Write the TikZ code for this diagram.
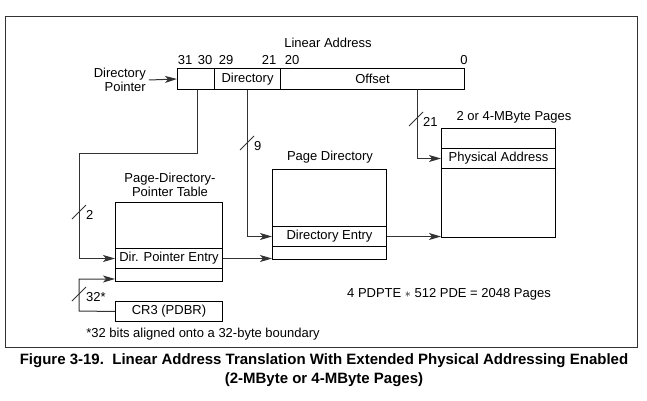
\documentclass[tikz,border=0pt]{standalone}
\usepackage{fontspec}
\setmainfont{Liberation Sans}
\usepackage{tikz}
\usetikzlibrary{arrows.meta}
\definecolor{linecol}{rgb}{0.2, 0.2, 0.2}
\tikzstyle{field}=[draw=black,line width=1pt,inner sep=0pt,anchor=north west,font=\fontsize{13}{13.5}\selectfont]
\tikzstyle{lbl}=[inner sep=0pt,font=\fontsize{13}{13.5}\selectfont]
\tikzstyle{conn}=[draw=linecol,line width=1pt,-{Stealth[length=12pt,width=7pt,inset=3pt]}]
\newcommand{\busmark}[4]{
  \draw[linecol,line width=1pt] (#1,#2) ++(-7,7) -- ++(14,-14);
  \node[lbl,anchor=west] (#4) at (#1+7,#2+3) {#3};
}

\begin{document}
\begin{tikzpicture}[x=1pt,y=-1pt]
\useasboundingbox (0,0) rectangle (647,401);
\draw[linecol,line width=1pt] (5,17) rectangle (637,347);

\node[lbl] (latitle) at (328,43) {Linear Address};
\node[lbl] (b31) at (185,60) {31};
\node[lbl] (b30) at (205,60) {30};
\node[lbl] (b29) at (226,60) {29};
\node[lbl] (b21) at (269,60) {21};
\node[lbl] (b20) at (292,60) {20};
\node[lbl] (b0) at (464,60) {0};

\node[field,minimum width=37pt,minimum height=21pt] (dp) at (177,68) {};
\node[field,minimum width=66pt,minimum height=21pt] (dir) at (214,68) {Directory};
\node[field,minimum width=184pt,minimum height=21pt] (off) at (280,68) {Offset};
\node[lbl,align=right,anchor=east] (dplbl) at (146,80) {Directory\\Pointer};

\node[lbl,align=center] (pttitle) at (170,185) {Page-Directory-\\Pointer Table};
\node[field,minimum width=107pt,minimum height=46pt] (ptop) at (115,202) {};
\node[field,minimum width=107pt,minimum height=20pt] (pdpe) at (115,248) {Dir. Pointer Entry};
\node[field,minimum width=107pt,minimum height=13pt] (pbot) at (115,268) {};

\node[lbl] (pdtitle) at (330,157) {Page Directory};
\node[field,minimum width=114pt,minimum height=57pt] (dtop) at (272,169) {};
\node[field,minimum width=114pt,minimum height=20pt] (pde) at (272,226) {Directory Entry};
\node[field,minimum width=114pt,minimum height=13pt] (dbot) at (272,246) {};

\node[lbl] (pgtitle) at (514,117) {2 or 4-MByte Pages};
\node[field,minimum width=114pt,minimum height=20pt] (gtop) at (441,128) {};
\node[field,minimum width=114pt,minimum height=20pt] (phys) at (441,148) {Physical Address};
\node[field,minimum width=114pt,minimum height=69pt] (gbot) at (441,168) {};

\node[field,minimum width=107pt,minimum height=20pt] (cr3) at (115,301) {CR3 (PDBR)};

\coordinate (bendA) at (79,153);
\coordinate (crbend) at (79,311);
\coordinate (crin) at (115,279);

\draw[conn] ([xshift=3pt]dplbl.east) -- (dp.west);
\draw[conn] ([xshift=1.5pt]dp.south) |- (bendA) |- (pdpe.west);
\draw[conn] (dir.south) |- (pde.west);
\draw[conn] ([xshift=45pt]off.south) |- (phys.west);
\draw[conn] (pdpe.east) -- (pdpe.east -| dbot.west);
\draw[conn] (pde.east) -- (pde.east -| gbot.west);
\draw[conn] (cr3.west) -- (crbend) |- (crin);

\busmark{79}{212}{2}{bw2};
\busmark{247}{143}{9}{bw9};
\busmark{416}{119}{21}{bw21};
\busmark{79}{294}{32*}{bw32};

\node[lbl] (total) at (449,294) {4 PDPTE $\ast$ 512 PDE = 2048 Pages};
\node[lbl] (note) at (203,334) {*32 bits aligned onto a 32-byte boundary};
\node[lbl,font=\bfseries\fontsize{15}{19}\selectfont,align=center] (caption) at (324,370) {Figure 3-19.\ \ Linear Address Translation With Extended Physical Addressing Enabled\\(2-MByte or 4-MByte Pages)};

\end{tikzpicture}
\end{document}
